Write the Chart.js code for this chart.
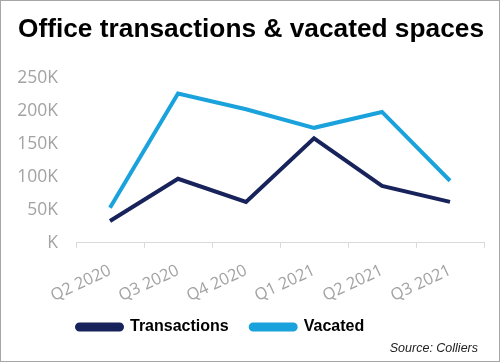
<!DOCTYPE html>
<html>
<head>
<meta charset="utf-8">
<script src="https://cdn.jsdelivr.net/npm/chart.js@4"></script>
<style>
  html, body { margin: 0; padding: 0; background: #fff; }
  .frame { width: 500px; height: 362px; box-sizing: border-box; border: 1px solid #a6a6a6; position: relative; }
  .frame canvas { display: block; }
</style>
</head>
<body>
<div class="frame"><canvas id="officeChart"></canvas></div>
<script>
// quarters on the x axis
const quarters = ['Q2 2020', 'Q3 2020', 'Q4 2020', 'Q1 2021', 'Q2 2021', 'Q3 2021'];
// sq m
const transactions = [33000, 97000, 62000, 158000, 86000, 62000];
const vacated = [53000, 226000, 202000, 174000, 198000, 94000];
const yTicks = [0, 50000, 100000, 150000, 200000, 250000];

const NAVY = '#17235a';
const SKY = '#1aa2dc';
const GREY = '#a3a3a3';

// legend sits left of centre in the original, source note bottom right
const extrasPlugin = {
    id: 'extras',
    afterLayout(chart) {
        const lg = chart.legend;
        if (lg) {
            lg.left = 54;
            lg.top = 296;
            lg.bottom = 336;
            lg.right = 480;
            lg.height = 40;
            lg.width = 426;
        }
    },
    afterDraw(chart) {
        const ctx = chart.ctx;
        ctx.save();
        ctx.font = 'italic 12.5px "Liberation Sans", Arial, sans-serif';
        ctx.fillStyle = '#222';
        ctx.textAlign = 'right';
        ctx.textBaseline = 'alphabetic';
        ctx.fillText('Source: Colliers', 477, 351);
        ctx.restore();
    }
};

new Chart(document.getElementById('officeChart'), {
    type: 'line',
    data: {
        labels: quarters,
        datasets: [
            {
                label: 'Transactions',
                data: transactions,
                borderColor: NAVY,
                backgroundColor: NAVY,
                borderWidth: 4,
                pointRadius: 0,
                tension: 0
            },
            {
                label: 'Vacated',
                data: vacated,
                borderColor: SKY,
                backgroundColor: SKY,
                borderWidth: 4,
                pointRadius: 0,
                tension: 0
            }
        ]
    },
    options: {
        responsive: true,
        maintainAspectRatio: false,
        animation: false,
        layout: {
            padding: { left: 17, right: 15, top: 0, bottom: 41 }
        },
        plugins: {
            title: {
                display: true,
                text: 'Office transactions & vacated spaces',
                color: '#000',
                font: { family: '"Liberation Sans", Arial, sans-serif', size: 26.3, weight: 'bold' },
                padding: { top: 13, bottom: 32 }
            },
            legend: {
                position: 'bottom',
                align: 'start',
                maxHeight: 1,
                labels: {
                    boxWidth: 45,
                    boxHeight: 5,
                    useBorderRadius: true,
                    borderRadius: 2.5,
                    padding: 22,
                    color: '#000',
                    font: { family: '"Liberation Sans", Arial, sans-serif', size: 16, weight: 'bold' }
                }
            },
            tooltip: { enabled: false }
        },
        scales: {
            x: {
                offset: true,
                afterFit(scale) {
                    // rotated first label may hang left of the plot, as in the original
                    scale.paddingLeft = 0;
                    scale.paddingRight = 0;
                },
                grid: {
                    display: true,
                    drawOnChartArea: false,
                    drawTicks: true,
                    tickLength: 5,
                    color: '#d9d9d9',
                    offset: true
                },
                border: { display: true, color: '#d9d9d9', width: 1 },
                ticks: {
                    color: GREY,
                    minRotation: 25,
                    maxRotation: 25,
                    padding: 13,
                    font: { family: '"Open Sans", sans-serif', size: 16.5 }
                }
            },
            y: {
                min: 0,
                max: 250000,
                afterBuildTicks(scale) {
                    scale.ticks = yTicks.map(v => ({ value: v }));
                },
                afterFit(scale) {
                    scale.width = 58;
                },
                grid: { display: false, drawTicks: false },
                border: { display: false },
                ticks: {
                    color: GREY,
                    padding: 18,
                    font: { family: '"Open Sans", sans-serif', size: 17.5 },
                    callback: function(value) {
                        return value === 0 ? 'K' : (value / 1000) + 'K';
                    }
                }
            }
        }
    },
    plugins: [extrasPlugin]
});
</script>
</body>
</html>
